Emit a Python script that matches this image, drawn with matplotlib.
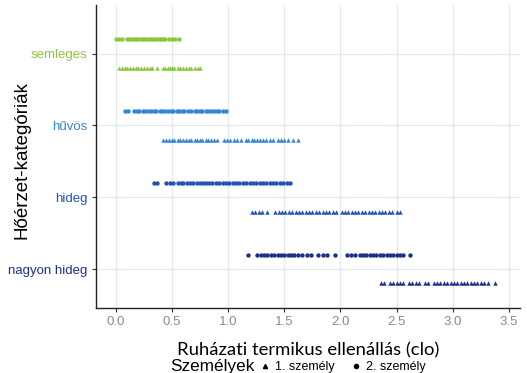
import matplotlib.pyplot as plt
from matplotlib.lines import Line2D

categories = ['nagyon hideg', 'hideg', 'hűvös', 'semleges']
cat_colors = ['#1f2f8a', '#2152b8', '#3386d6', '#8cc63f']

# 1. személy (háromszög)
p1_semleges = [0.03, 0.05, 0.08, 0.10, 0.13, 0.15, 0.18, 0.20, 0.22, 0.25, 0.28, 0.30,
               0.32, 0.37, 0.42, 0.44, 0.46, 0.48, 0.50, 0.52, 0.55, 0.57, 0.60, 0.62,
               0.65, 0.67, 0.70, 0.73, 0.75]
p1_huvos = [0.42, 0.45, 0.47, 0.50, 0.52, 0.55, 0.57, 0.60, 0.62, 0.65, 0.67, 0.70, 0.72,
            0.75, 0.77, 0.80, 0.82, 0.85, 0.87, 0.90, 0.96, 0.99, 1.02, 1.05, 1.08, 1.11,
            1.16, 1.18, 1.21, 1.23, 1.26, 1.28, 1.31, 1.34, 1.37, 1.40, 1.44, 1.47, 1.50,
            1.53, 1.58, 1.62]
p1_hideg = [1.21, 1.24, 1.27, 1.30, 1.35, 1.42, 1.45, 1.48, 1.51, 1.54, 1.57, 1.60, 1.63,
            1.66, 1.69, 1.72, 1.75, 1.78, 1.81, 1.84, 1.87, 1.90, 1.93, 1.96, 2.01, 2.04,
            2.07, 2.10, 2.13, 2.16, 2.19, 2.22, 2.25, 2.28, 2.31, 2.34, 2.37, 2.40, 2.43,
            2.46, 2.50, 2.53]
p1_nagyon = [2.36, 2.39, 2.44, 2.47, 2.50, 2.53, 2.56, 2.61, 2.64, 2.67, 2.70, 2.75, 2.78,
             2.83, 2.86, 2.89, 2.92, 2.95, 2.98, 3.01, 3.04, 3.07, 3.10, 3.13, 3.16, 3.19,
             3.22, 3.25, 3.28, 3.31, 3.38]

# 2. személy (kör)
p2_semleges = [0.0, 0.03, 0.05, 0.10, 0.12, 0.14, 0.16, 0.18, 0.20, 0.22, 0.24, 0.26, 0.28,
               0.30, 0.32, 0.34, 0.36, 0.38, 0.40, 0.42, 0.44, 0.47, 0.50, 0.53, 0.56]
p2_huvos = [0.08, 0.11, 0.16, 0.19, 0.21, 0.24, 0.26, 0.29, 0.31, 0.34, 0.36, 0.39, 0.41,
            0.44, 0.46, 0.49, 0.51, 0.54, 0.56, 0.59, 0.61, 0.64, 0.67, 0.70, 0.72, 0.75,
            0.77, 0.80, 0.82, 0.85, 0.87, 0.90, 0.92, 0.95, 0.98]
p2_hideg = [0.34, 0.37, 0.45, 0.48, 0.51, 0.55, 0.58, 0.60, 0.63, 0.66, 0.69, 0.72, 0.75,
            0.78, 0.80, 0.83, 0.86, 0.89, 0.92, 0.95, 0.98, 1.01, 1.04, 1.07, 1.10, 1.13,
            1.16, 1.19, 1.22, 1.25, 1.28, 1.31, 1.34, 1.37, 1.40, 1.43, 1.46, 1.49, 1.52, 1.55]
p2_nagyon = [1.18, 1.26, 1.29, 1.32, 1.35, 1.38, 1.41, 1.44, 1.47, 1.50, 1.53, 1.56, 1.59,
             1.62, 1.66, 1.70, 1.74, 1.80, 1.84, 1.88, 1.95, 2.06, 2.09, 2.13, 2.17, 2.20,
             2.23, 2.26, 2.29, 2.32, 2.35, 2.38, 2.41, 2.44, 2.47, 2.50, 2.53, 2.56, 2.62]

person1 = [p1_nagyon, p1_hideg, p1_huvos, p1_semleges]
person2 = [p2_nagyon, p2_hideg, p2_huvos, p2_semleges]
x_ticks = [0.0, 0.5, 1.0, 1.5, 2.0, 2.5, 3.0, 3.5]

SANS = ['Liberation Sans', 'DejaVu Sans']
plt.rcParams['font.family'] = SANS

fig = plt.figure(figsize=(5.27, 3.73), dpi=100)
ax = fig.add_axes([0.182, 0.174, 0.805, 0.813])

dodge = 0.2
for i, cat in enumerate(categories):
    y = i + 1
    ax.scatter(person1[i], [y - dodge] * len(person1[i]), marker='^', s=10,
               color=cat_colors[i], linewidths=0, zorder=3)
    ax.scatter(person2[i], [y + dodge] * len(person2[i]), marker='o', s=10,
               color=cat_colors[i], linewidths=0, zorder=3)

ax.set_xlim(-0.178, 3.6)
ax.set_ylim(0.456, 4.68)
ax.set_xticks(x_ticks)
ax.set_xticklabels([f'{v:.1f}' for v in x_ticks], color='#8a8a8a', fontsize=9.5,
                   family=SANS)
ax.set_yticks(range(1, len(categories) + 1))
ax.set_yticklabels(categories, fontsize=9.5, family=SANS)
for lbl, c in zip(ax.get_yticklabels(), cat_colors):
    lbl.set_color(c)

ax.grid(True, color='#e3e8ee', linewidth=0.9, zorder=0)
ax.set_axisbelow(True)
for side in ['top', 'right']:
    ax.spines[side].set_visible(False)
for side in ['left', 'bottom']:
    ax.spines[side].set_color('#222222')
    ax.spines[side].set_linewidth(1.0)
ax.tick_params(length=3, width=0.8, color='#333333', pad=3)

ax.set_xlabel('Ruházati termikus ellenállás (clo)', fontsize=13.3,
              family=['Lato', 'DejaVu Sans'], labelpad=10)
ax.set_ylabel('Hőérzet-kategóriák', fontsize=13.5, family=SANS)
ax.yaxis.set_label_coords(-0.155, 0.49)

fig.text(0.323, -0.004, 'Személyek', fontsize=12.3, ha='left', va='bottom',
         family=SANS)
handles = [Line2D([], [], marker='^', linestyle='', color='black', markersize=3),
           Line2D([], [], marker='o', linestyle='', color='black', markersize=3)]
fig.legend(handles, ['1. személy', '2. személy'], ncol=2, frameon=False,
           loc='lower left', bbox_to_anchor=(0.47, -0.03), fontsize=9,
           handletextpad=0.3, columnspacing=1.2, handlelength=1.0,
           prop={'family': SANS, 'size': 9})

plt.savefig('out.png', dpi=100)
plt.close()
